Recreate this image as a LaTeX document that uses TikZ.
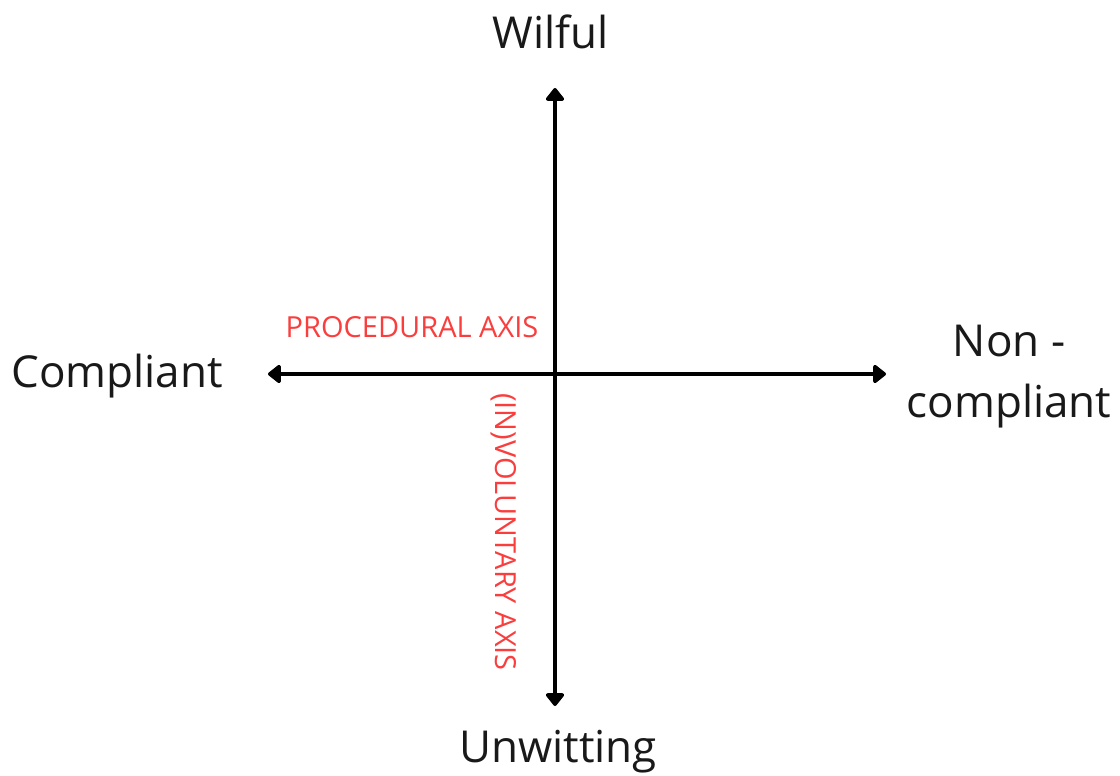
\documentclass[tikz,border=0pt]{standalone}
\usepackage{fontspec}
\setmainfont{Open Sans}
\usetikzlibrary{arrows.meta,positioning}
\definecolor{axislabel}{RGB}{250,62,62}

\begin{document}
\begin{tikzpicture}[x=1pt, y=-1pt,
    pole/.style={font=\fontsize{44}{61}\selectfont, align=center, text=black!90},
    axisname/.style={font=\fontsize{29}{34}\selectfont, text=axislabel, inner sep=0pt},
    axisline/.style={line width=4pt, {Triangle[width=21pt,length=14pt,round]}-{Triangle[width=21pt,length=14pt,round]}}]
\useasboundingbox (0,0) rectangle (1120,776);
% axis end points
\coordinate (left) at (268,374);
\coordinate (right) at (886,374);
\coordinate (top) at (555,88);
\coordinate (bottom) at (555,706);
\draw[axisline] (left) -- (right);
\draw[axisline] (top) -- (bottom);
% poles
\node[pole] (wilful) at (551,32) {Wilful};
\node[pole] (compliant) at (117,376) {Compliant};
\node[pole] (noncompliant) at (1009,377) {Non -\\compliant};
\node[pole] (unwitting) at (558,752) {Unwitting};
% axis names
\node[axisname] (procedural) at (412,327) {PROCEDURAL AXIS};
\node[axisname, rotate=-90] (voluntary) at (504,532) {(IN)VOLUNTARY AXIS};
\end{tikzpicture}
\end{document}
